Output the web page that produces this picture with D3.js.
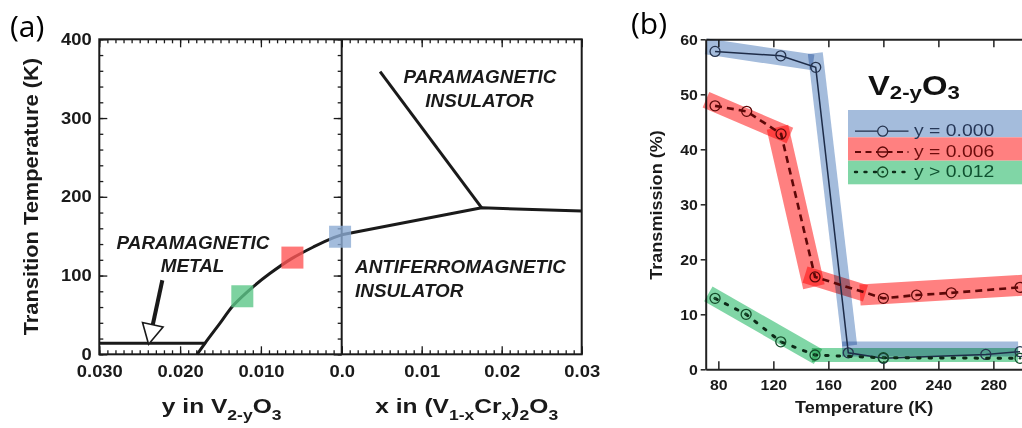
<!DOCTYPE html>
<html><head><meta charset="utf-8">
<script src="https://cdn.jsdelivr.net/npm/d3@7"></script>
<style>
body{margin:0;background:#fff;}
svg{display:block;}
text{font-family:"Liberation Sans",Arial,Helvetica,sans-serif;}
</style></head><body>
<svg id="c" width="1022" height="428"></svg>
<script>
// ================= DATA: panel (a) phase diagram =================
const aLeftMajorTicks  = [0.030, 0.020, 0.010, 0.000];
const aRightMajorTicks = [0.0, 0.01, 0.02, 0.03];
const aYMajorTicks     = [0, 100, 200, 300, 400];
// flat metal boundary (y in V2-yO3, T)
const metalY = [0.030, 0.0169];
const metalT = [14, 14];
// MIT boundary in V2-yO3
const mitY = [0.0179, 0.0169, 0.0151, 0.0134, 0.0109, 0.0089, 0.0062, 0.0035, 0.0010, 0.0];
const mitT = [0, 14.3, 38.9, 62.2, 86.3, 102.5, 121.5, 136.3, 148.2, 151.7];
// boundaries in (V1-xCrx)2O3
const crX = [0.0, 0.0175, 0.03];
const crT = [151.7, 186, 182];
const piX = [0.0175, 0.0048];
const piT = [186, 359];
// highlighted compositions
const markY = [0.0123, 0.0061, 0.0002];
const markT = [73.7, 122.8, 149.3];
// arrow (from, tip)
const arrowY = [0.0222, 0.0239];
const arrowT = [94, 12.7];

// ================= DATA: panel (b) transmission =================
const bXTicks = [80, 120, 160, 200, 240, 280];
const bYTicks = [0, 10, 20, 30, 40, 50, 60];
const seriesNames = ["y = 0.000", "y = 0.006", "y > 0.012"];
const temp0 = [77.6, 125.4, 150.8, 174.5, 200, 274.5, 299.4];
const trans0 = [57.8, 57.0, 54.9, 3.0, 2.0, 2.7, 3.2];
const temp1 = [77.6, 100.6, 125.6, 150.3, 200, 224.2, 249.4, 299.4];
const trans1 = [47.9, 46.9, 42.8, 16.8, 12.9, 13.5, 13.9, 14.9];
const temp2 = [77.6, 100.2, 125.4, 150.3, 200, 299.4];
const trans2 = [12.9, 10.0, 5.0, 2.6, 2.1, 2.0];
// highlight bands: segments [T1, v1, T2, v2]
const bandBlue  = [[71, 58.7, 149, 55.8], [150.5, 57.5, 175.5, 4.3], [170, 3.7, 298, 3.7]];
const bandRed   = [[71, 49, 132, 42.5], [123, 44, 149.5, 15], [143, 17.2, 187, 13.8], [183, 13.5, 303, 15.3]];
const bandGreen = [[72.7, 13.7, 152.5, 2.3], [148, 2.6, 298, 2.6]];

// ================= STYLE =================
const ink = "#1a1a1a";
const FONT = '"Liberation Sans", Arial, Helvetica, sans-serif';
const svg = d3.select("#c");

function rich(parent, x, y, parts, o) {
  const t = parent.append("text")
    .attr("transform", `translate(${x},${y})` + (o.rot ? ` rotate(${o.rot})` : "") + ` scale(${o.sx || 1},1)`)
    .attr("text-anchor", o.anchor || "start")
    .attr("font-size", o.size)
    .attr("font-weight", o.weight || "normal")
    .attr("font-style", o.style || "normal")
    .attr("fill", o.fill || ink)
    .style("font-family", o.family || FONT);
  let shifted = 0;
  parts.forEach(([s, sub]) => {
    const ts = t.append("tspan").text(s);
    const target = sub ? o.subShift : 0;
    if (target !== shifted) { ts.attr("dy", target - shifted); shifted = target; }
    if (sub) ts.attr("font-size", o.subSize);
  });
  return t;
}

// ================= PANEL (a) =================
const xL = d3.scaleLinear().domain([0.030, 0]).range([99.3, 341.7]);
const xR = d3.scaleLinear().domain([0, 0.03]).range([341.7, 581.7]);
const yA = d3.scaleLinear().domain([0, 400]).range([354.3, 39.3]);
const A = svg.append("g");

function tickStyle(g, fs, sx) {
  g.select(".domain").remove();
  g.attr("font-family", FONT).attr("font-size", fs).attr("font-weight", "bold");
  g.selectAll("line").attr("stroke", ink).attr("stroke-width", 1.3);
  g.selectAll("text").attr("fill", ink).attr("transform", `scale(${sx},1)`);
}
const minorX = d3.range(0, 31).map(i => i / 1000);
const minorY = d3.range(0, 401, 20);
const aSX = 1.15, aFS = 16;
// bottom
A.append("g").attr("transform", `translate(0,${yA(0)})`)
  .call(d3.axisBottom(xL).tickValues(minorX).tickSize(-4).tickFormat("")).call(g => tickStyle(g, aFS, 1));
A.append("g").attr("transform", `translate(0,${yA(0)})`)
  .call(d3.axisBottom(xL).tickValues(aLeftMajorTicks).tickSize(-8).tickPadding(11)
    .tickFormat(d => d === 0 ? "" : d3.format(".3f")(d))).call(g => tickStyle(g, aFS, aSX));
A.append("g").attr("transform", `translate(0,${yA(0)})`)
  .call(d3.axisBottom(xR).tickValues(minorX).tickSize(-4).tickFormat("")).call(g => tickStyle(g, aFS, 1));
A.append("g").attr("transform", `translate(0,${yA(0)})`)
  .call(d3.axisBottom(xR).tickValues(aRightMajorTicks).tickSize(-8).tickPadding(11)
    .tickFormat(d => d === 0 ? "0.0" : d3.format(".2f")(d))).call(g => tickStyle(g, aFS, aSX));
// top
A.append("g").attr("transform", `translate(0,${yA(400)})`)
  .call(d3.axisTop(xL).tickValues(minorX).tickSize(-4).tickFormat("")).call(g => tickStyle(g, aFS, 1));
A.append("g").attr("transform", `translate(0,${yA(400)})`)
  .call(d3.axisTop(xL).tickValues(aLeftMajorTicks).tickSize(-8).tickFormat("")).call(g => tickStyle(g, aFS, 1));
A.append("g").attr("transform", `translate(0,${yA(400)})`)
  .call(d3.axisTop(xR).tickValues(minorX).tickSize(-4).tickFormat("")).call(g => tickStyle(g, aFS, 1));
A.append("g").attr("transform", `translate(0,${yA(400)})`)
  .call(d3.axisTop(xR).tickValues(aRightMajorTicks).tickSize(-8).tickFormat("")).call(g => tickStyle(g, aFS, 1));
// left
A.append("g").attr("transform", `translate(${xL(0.030)},0)`)
  .call(d3.axisLeft(yA).tickValues(minorY).tickSize(-4).tickFormat("")).call(g => tickStyle(g, aFS, 1));
A.append("g").attr("transform", `translate(${xL(0.030)},0)`)
  .call(d3.axisLeft(yA).tickValues(aYMajorTicks).tickSize(-8).tickPadding(7.6 / aSX).tickFormat(d3.format("d")))
  .call(g => tickStyle(g, aFS, aSX));
// divider ticks (pointing left)
A.append("g").attr("transform", `translate(${xL(0)},0)`)
  .call(d3.axisRight(yA).tickValues(minorY).tickSize(-4).tickFormat("")).call(g => tickStyle(g, aFS, 1));
A.append("g").attr("transform", `translate(${xL(0)},0)`)
  .call(d3.axisRight(yA).tickValues(aYMajorTicks).tickSize(-8).tickFormat("")).call(g => tickStyle(g, aFS, 1));
// frame
A.append("rect").attr("x", xL(0.030)).attr("y", yA(400))
  .attr("width", xR(0.03) - xL(0.030)).attr("height", yA(0) - yA(400))
  .attr("fill", "none").attr("stroke", ink).attr("stroke-width", 2);
A.append("line").attr("x1", xL(0)).attr("x2", xL(0)).attr("y1", yA(400)).attr("y2", yA(0))
  .attr("stroke", ink).attr("stroke-width", 2);

// boundaries
const lineL = d3.line().x(d => xL(d[0])).y(d => yA(d[1]));
const lineR = d3.line().x(d => xR(d[0])).y(d => yA(d[1]));
A.append("path").attr("d", lineL(d3.zip(metalY, metalT)))
  .attr("fill", "none").attr("stroke", ink).attr("stroke-width", 3);
A.append("path").attr("d", lineL.curve(d3.curveCatmullRom.alpha(0.5))(d3.zip(mitY, mitT)))
  .attr("fill", "none").attr("stroke", ink).attr("stroke-width", 3);
A.append("path").attr("d", lineR(d3.zip(crX, crT)))
  .attr("fill", "none").attr("stroke", ink).attr("stroke-width", 3).attr("stroke-linejoin", "round");
A.append("path").attr("d", lineR(d3.zip(piX, piT)))
  .attr("fill", "none").attr("stroke", ink).attr("stroke-width", 3);

// marked compositions
const markFill = ["rgb(92,199,136)", "rgb(255,86,86)", "rgb(140,171,211)"];
const SQ = 22;
A.selectAll("rect.mk").data(d3.zip(markY, markT)).join("rect").attr("class", "mk")
  .attr("x", d => xL(d[0]) - SQ / 2).attr("y", d => yA(d[1]) - SQ / 2)
  .attr("width", SQ).attr("height", SQ)
  .attr("fill", (d, i) => markFill[i]).attr("fill-opacity", 0.8);

// arrow
{
  const x0 = xL(arrowY[0]), y0 = yA(arrowT[0]), x1 = xL(arrowY[1]), y1 = yA(arrowT[1]);
  const dx = x1 - x0, dy = y1 - y0, L = Math.hypot(dx, dy), ux = dx / L, uy = dy / L;
  const hl = 20, hw = 10.5;
  const bx = x1 - ux * hl, by = y1 - uy * hl;
  A.append("line").attr("x1", x0).attr("y1", y0).attr("x2", bx).attr("y2", by)
    .attr("stroke", ink).attr("stroke-width", 4);
  A.append("path").attr("d", `M${x1},${y1}L${bx + uy * hw},${by - ux * hw}L${bx - uy * hw},${by + ux * hw}Z`)
    .attr("fill", "#fff").attr("stroke", ink).attr("stroke-width", 1.6).attr("stroke-linejoin", "miter");
}

// region annotations
const ann = { size: 17.5, weight: "bold", style: "italic", sx: 1.08 };
rich(A, 193, 249, [["PARAMAGNETIC", 0]], { ...ann, anchor: "middle" });
rich(A, 192.5, 271.7, [["METAL", 0]], { ...ann, anchor: "middle" });
rich(A, 480, 82.7, [["PARAMAGNETIC", 0]], { ...ann, anchor: "middle" });
rich(A, 479.5, 106.7, [["INSULATOR", 0]], { ...ann, anchor: "middle" });
rich(A, 355, 273.3, [["ANTIFERROMAGNETIC", 0]], ann);
rich(A, 355, 296.7, [["INSULATOR", 0]], ann);

// axis titles
rich(A, 38.3, 196.7, [["Transition Temperature (K)", 0]], { size: 21, weight: "bold", sx: 1.04, anchor: "middle", rot: -90 });
rich(A, 221.7, 413, [["y in V", 0], ["2-y", 1], ["O", 0], ["3", 1]],
  { size: 21, subSize: 15, subShift: 7, weight: "bold", sx: 1.17, anchor: "middle" });
rich(A, 466.7, 413, [["x in (V", 0], ["1-x", 1], ["Cr", 0], ["x", 1], [")", 0], ["2", 1], ["O", 0], ["3", 1]],
  { size: 21, subSize: 15, subShift: 7, weight: "bold", sx: 1.17, anchor: "middle" });

// panel labels
rich(svg, 10, 37, [["(a)", 0]], { size: 30, family: '"Open Sans", sans-serif', fill: "#000" });
rich(svg, 631, 33.5, [["(b)", 0]], { size: 30, family: '"Open Sans", sans-serif', fill: "#000" });

// ================= PANEL (b) =================
const xB = d3.scaleLinear().domain([70.8, 303]).range([705.7, 1025]);
const yB = d3.scaleLinear().domain([0, 60]).range([369.3, 39.3]);
const B = svg.append("g");

function bAxis(g, sx) {
  g.attr("font-family", FONT).attr("font-size", 15).attr("font-weight", "bold");
  g.select(".domain").attr("stroke", "#222").attr("stroke-width", 2);
  g.selectAll("line").attr("stroke", "#222").attr("stroke-width", 1.5);
  g.selectAll("text").attr("fill", ink).attr("transform", `scale(${sx},1)`);
}
B.append("g").attr("transform", `translate(0,${yB(0)})`)
  .call(d3.axisBottom(xB).tickValues(bXTicks).tickSize(-8).tickSizeOuter(0).tickPadding(9.6).tickFormat(d3.format("d")))
  .call(g => bAxis(g, 1.06));
B.append("g").attr("transform", `translate(0,${yB(60)})`)
  .call(d3.axisTop(xB).tickValues(bXTicks).tickSize(-8).tickSizeOuter(0).tickFormat(""))
  .call(g => bAxis(g, 1));
B.append("g").attr("transform", `translate(${xB(70.8)},0)`)
  .call(d3.axisLeft(yB).tickValues(bYTicks).tickSize(5).tickSizeOuter(0).tickPadding(2.4).tickFormat(d3.format("d")))
  .call(g => bAxis(g, 1.06));

// highlight bands
const bandColors = ["rgb(164,188,220)", "rgb(255,128,128)", "rgb(128,214,166)"];
const bandWidths = [[16, 15, 15], [17, 22, 17, 21], [17, 14]];
[bandBlue, bandRed, bandGreen].forEach((segs, k) => {
  B.append("g").selectAll("line").data(segs).join("line")
    .attr("x1", d => xB(d[0])).attr("y1", d => yB(d[1]))
    .attr("x2", d => xB(d[2])).attr("y2", d => yB(d[3]))
    .attr("stroke", bandColors[k]).attr("stroke-width", (d, i) => bandWidths[k][i])
    .attr("stroke-linecap", "butt").style("mix-blend-mode", "multiply");
});

// series
const lineB = d3.line().x(d => xB(d[0])).y(d => yB(d[1]));
const sStroke = ["#1e2c48", "#5e0808", "#0e2a18"];
const sMarker = ["#26344f", "#5e0808", "#134d2a"];
const sData = [d3.zip(temp0, trans0), d3.zip(temp1, trans1), d3.zip(temp2, trans2)];
const sDash = [null, "7,5", "2.5,9"];
const sWidth = [1.5, 2.6, 3];
sData.forEach((pts, k) => {
  B.append("path").attr("d", lineB(pts)).attr("fill", "none")
    .attr("stroke", sStroke[k]).attr("stroke-width", sWidth[k])
    .attr("stroke-dasharray", sDash[k]).attr("stroke-linecap", k === 2 ? "round" : "butt");
  B.append("g").selectAll("circle").data(pts).join("circle")
    .attr("cx", d => xB(d[0])).attr("cy", d => yB(d[1])).attr("r", 5)
    .attr("fill", "none").attr("stroke", sMarker[k]).attr("stroke-width", 1.3);
  if (k === 2) {
    B.append("g").selectAll("circle").data(pts).join("circle")
      .attr("cx", d => xB(d[0])).attr("cy", d => yB(d[1])).attr("r", 1.3).attr("fill", sMarker[k]);
  }
});

// title
rich(B, 868, 95, [["V", 0], ["2-y", 1], ["O", 0], ["3", 1]],
  { size: 28, subSize: 19, subShift: 4, weight: "bold", sx: 1.17, fill: "#111" });

// legend
const legTop = [110, 137.3, 160.7], legBot = [137.3, 160.7, 184.3];
const legText = ["#263757", "#6e0c0c", "#0f5230"];
const legLineY = [131.2, 152, 172];
const legBase = [135.5, 157, 177];
seriesNames.forEach((name, k) => {
  B.append("rect").attr("x", 848).attr("y", legTop[k]).attr("width", 180).attr("height", legBot[k] - legTop[k])
    .attr("fill", bandColors[k]);
});
seriesNames.forEach((name, k) => {
  B.append("line").attr("x1", 855).attr("x2", 908.5).attr("y1", legLineY[k]).attr("y2", legLineY[k])
    .attr("stroke", sStroke[k]).attr("stroke-width", sWidth[k] * 0.8)
    .attr("stroke-dasharray", k === 1 ? "6,4.5" : (k === 2 ? "2,7.5" : null))
    .attr("stroke-linecap", k === 2 ? "round" : "butt");
  B.append("circle").attr("cx", 882.7).attr("cy", legLineY[k]).attr("r", 5)
    .attr("fill", bandColors[k]).attr("stroke", sMarker[k]).attr("stroke-width", 1.3);
  if (k === 1) B.append("line").attr("x1", 877.7).attr("x2", 887.7).attr("y1", legLineY[k]).attr("y2", legLineY[k])
    .attr("stroke", sMarker[k]).attr("stroke-width", 1.5);
  if (k === 2) B.append("circle").attr("cx", 882.7).attr("cy", legLineY[k]).attr("r", 1.3).attr("fill", sMarker[k]);
  rich(B, 914, legBase[k], [[name, 0]], { size: 17, sx: 1.14, fill: legText[k] });
});

// axis titles
rich(B, 933.3, 413.3, [["Temperature (K)", 0]], { size: 16, weight: "bold", sx: 1.13, anchor: "end" });
rich(B, 662, 205, [["Transmission (%)", 0]], { size: 16, weight: "bold", sx: 1.13, anchor: "middle", rot: -90 });
</script>
</body></html>
